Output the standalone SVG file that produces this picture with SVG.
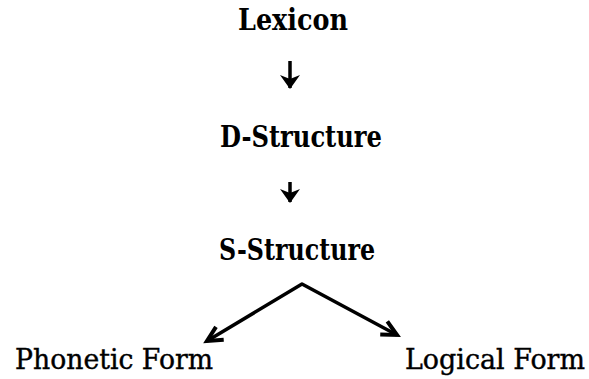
<svg xmlns="http://www.w3.org/2000/svg" width="589" height="379" viewBox="0 0 589 379">
<defs>
<style>
text{font-family:'DejaVu Serif','Liberation Serif',serif;fill:#000}
.b{font-weight:bold;font-size:29px}
.r{font-size:27px;stroke:#000;stroke-width:0.4}
.ln{stroke:#000;stroke-width:3.5;fill:none}
</style>
<marker id="solid" markerUnits="userSpaceOnUse" markerWidth="24" markerHeight="24" refX="0" refY="0" overflow="visible" orient="auto">
<path d="M1,0 L-13,-10 L-9,0 L-13,10 Z" fill="#000"/>
</marker>
<marker id="vee" markerUnits="userSpaceOnUse" markerWidth="24" markerHeight="24" refX="0" refY="0" overflow="visible" orient="auto-start-reverse">
<path d="M-15,-7.5 L0,0 L-15,7.5" fill="none" stroke="#000" stroke-width="4"/>
</marker>
</defs>
<g id="lexicon"><text class="b" x="238" y="30" textLength="110" lengthAdjust="spacingAndGlyphs">Lexicon</text></g>
<g id="d-structure"><text class="b" x="220" y="147" textLength="162" lengthAdjust="spacingAndGlyphs">D-Structure</text></g>
<g id="s-structure"><text class="b" x="219" y="260" textLength="156" lengthAdjust="spacingAndGlyphs">S-Structure</text></g>
<g id="phonetic-form"><text class="r" x="15" y="369" textLength="198" lengthAdjust="spacingAndGlyphs">Phonetic Form</text></g>
<g id="logical-form"><text class="r" x="405" y="369" textLength="180" lengthAdjust="spacingAndGlyphs">Logical Form</text></g>
<g id="connectors">
<line class="ln" x1="290" y1="61" x2="290" y2="88" marker-end="url(#solid)"/>
<line class="ln" x1="290" y1="182" x2="290" y2="202" marker-end="url(#solid)"/>
<polyline class="ln" points="207,341 302,284 397,335" stroke-linejoin="round" marker-start="url(#vee)" marker-end="url(#vee)"/>
</g>
</svg>
